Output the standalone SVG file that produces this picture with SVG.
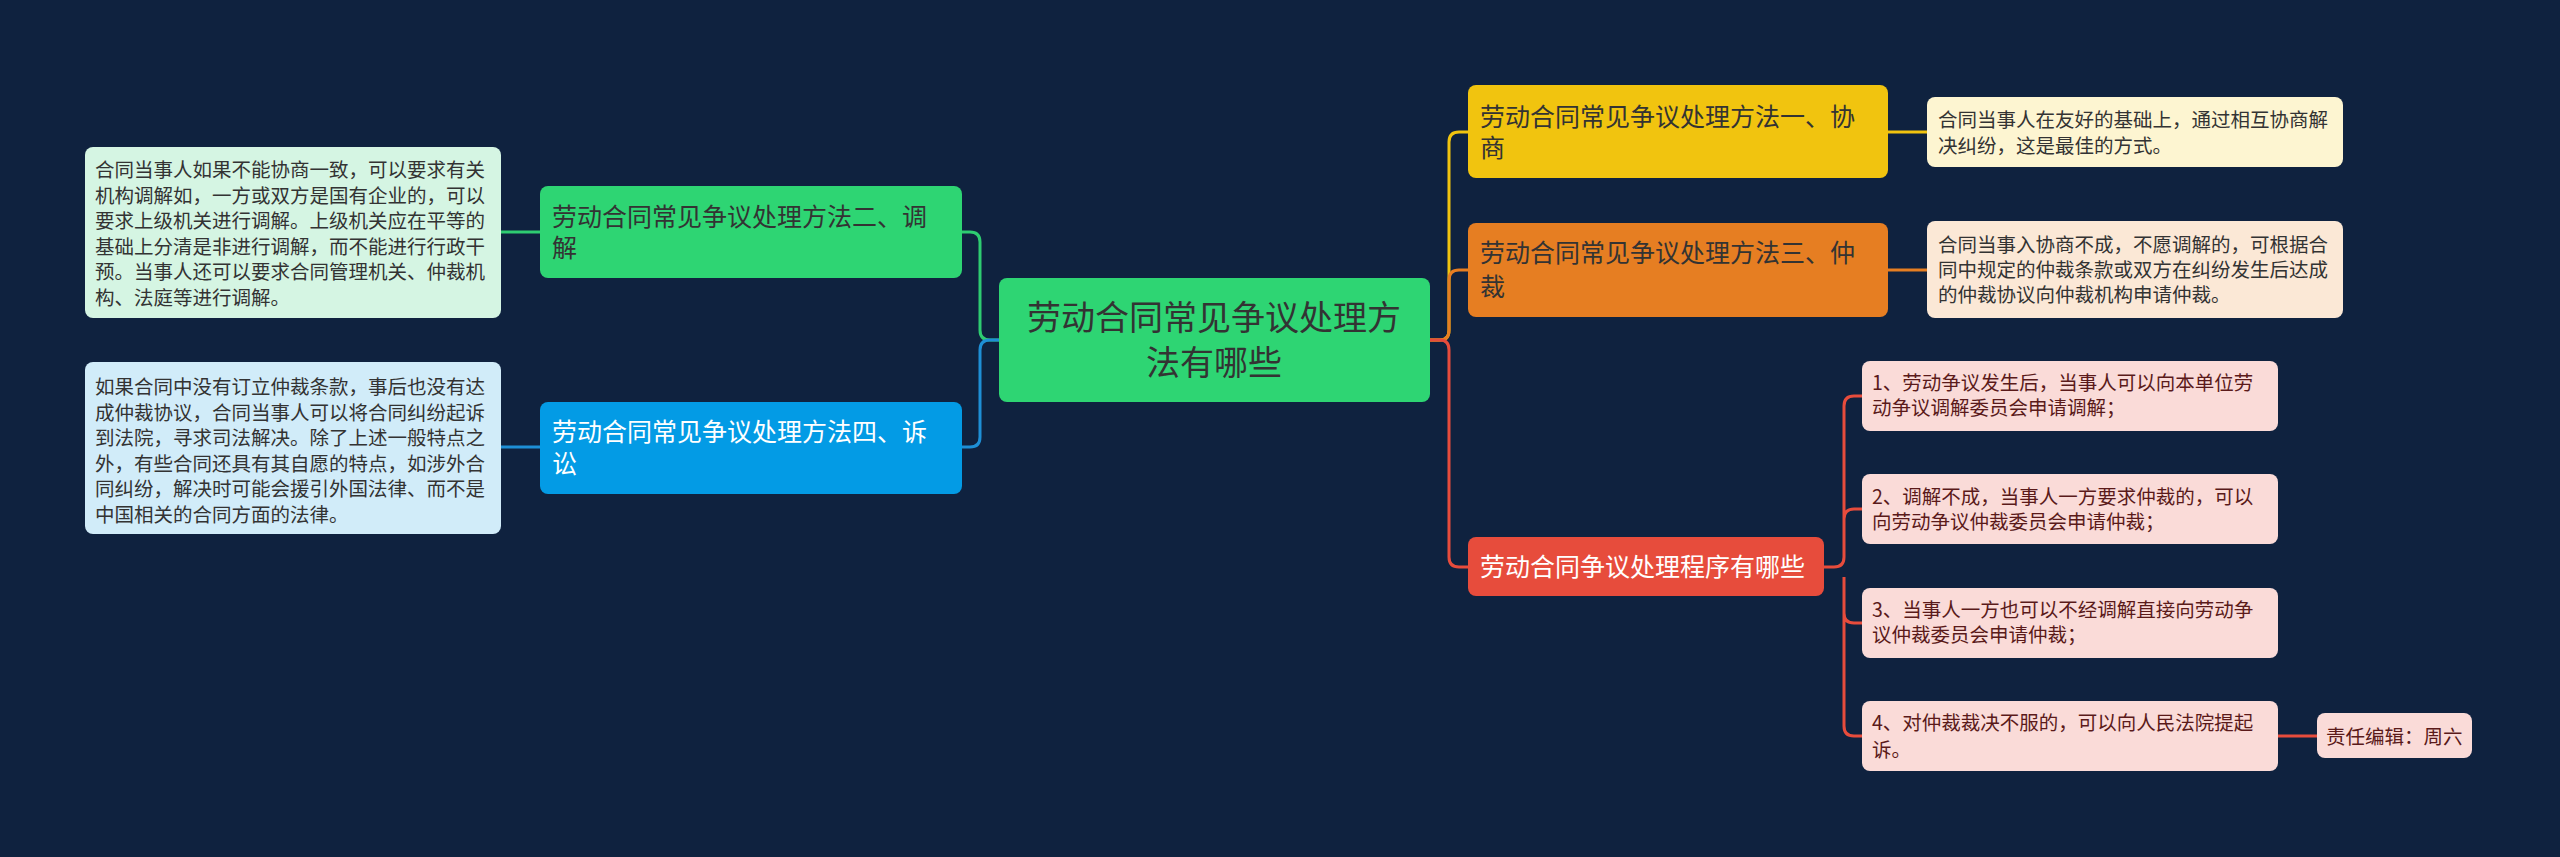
<svg xmlns="http://www.w3.org/2000/svg" width="2560" height="857" viewBox="0 0 2560 857">
<style>
text{font-family:"Noto Sans CJK SC","Noto Sans",sans-serif}
.l1{font-size:25px}
.lf{font-size:19.5px}
.c{fill:none;stroke-width:3}
</style>
<rect width="2560" height="857" fill="#0f223f"/>
<g id="connectors">
<path class="c" stroke="#2ecc71" d="M999 340H990Q980 340 980 330V242Q980 232 970 232H962"/>
<path class="c" stroke="#1e8fd6" d="M999 340H990Q980 340 980 350V437Q980 447 970 447H962"/>
<path class="c" stroke="#2ecc71" d="M540 232H501"/>
<path class="c" stroke="#1e8fd6" d="M540 447H501"/>
<path class="c" stroke="#f1c40f" d="M1430 340H1440Q1449 340 1449 330V142Q1449 132 1459 132H1468"/>
<path class="c" stroke="#e67e22" d="M1430 340H1440Q1449 340 1449 330V280Q1449 270 1459 270H1468"/>
<path class="c" stroke="#e74c3c" d="M1430 340H1440Q1449 340 1449 350V557Q1449 567 1459 567H1468"/>
<path class="c" stroke="#f1c40f" d="M1888 132H1927"/>
<path class="c" stroke="#e67e22" d="M1888 270H1927"/>
<path class="c" stroke="#e74c3c" d="M1824 567H1834Q1844 567 1844 557V406Q1844 396 1854 396H1862M1844 557V519Q1844 509 1854 509H1862M1844 577V613Q1844 623 1854 623H1862M1844 577V726Q1844 736 1854 736H1862M2278 736H2317"/>
</g>
<g id="center"><rect x="999" y="278" width="431" height="124" rx="8" fill="#2ed573"/>
<text x="1214" y="330" font-size="34" fill="#333" text-anchor="middle">劳动合同常见争议处理方</text>
<text x="1214" y="375" font-size="34" fill="#333" text-anchor="middle">法有哪些</text></g>
<g id="m2"><rect x="540" y="186" width="422" height="92" rx="8" fill="#2ed573"/>
<text class="l1" x="552" y="226" fill="#333">劳动合同常见争议处理方法二、调</text><text class="l1" x="552" y="257" fill="#333">解</text></g>
<g id="m4"><rect x="540" y="402" width="422" height="92" rx="8" fill="#039be5"/>
<text class="l1" x="552" y="441" fill="#fff">劳动合同常见争议处理方法四、诉</text><text class="l1" x="552" y="473" fill="#fff">讼</text></g>
<g id="leaf2"><rect x="85" y="147" width="416" height="171" rx="8" fill="#d5f5e3"/>
<g class="lf" fill="#333">
<text x="95" y="177">合同当事人如果不能协商一致，可以要求有关</text>
<text x="95" y="203">机构调解如，一方或双方是国有企业的，可以</text>
<text x="95" y="228">要求上级机关进行调解。上级机关应在平等的</text>
<text x="95" y="254">基础上分清是非进行调解，而不能进行行政干</text>
<text x="95" y="279">预。当事人还可以要求合同管理机关、仲裁机</text>
<text x="95" y="305">构、法庭等进行调解。</text></g></g>
<g id="leaf4"><rect x="85" y="362" width="416" height="172" rx="8" fill="#d1ecf9"/>
<g class="lf" fill="#333">
<text x="95" y="394">如果合同中没有订立仲裁条款，事后也没有达</text>
<text x="95" y="420">成仲裁协议，合同当事人可以将合同纠纷起诉</text>
<text x="95" y="445">到法院，寻求司法解决。除了上述一般特点之</text>
<text x="95" y="471">外，有些合同还具有其自愿的特点，如涉外合</text>
<text x="95" y="496">同纠纷，解决时可能会援引外国法律、而不是</text>
<text x="95" y="522">中国相关的合同方面的法律。</text></g></g>
<g id="m1"><rect x="1468" y="85" width="420" height="93" rx="8" fill="#f1c40f"/>
<text class="l1" x="1480" y="126" fill="#333">劳动合同常见争议处理方法一、协</text><text class="l1" x="1480" y="157" fill="#333">商</text></g>
<g id="leaf1"><rect x="1927" y="97" width="416" height="70" rx="8" fill="#fdf5d1"/>
<text class="lf" x="1938" y="127" fill="#333">合同当事人在友好的基础上，通过相互协商解</text>
<text class="lf" x="1938" y="153" fill="#333">决纠纷，这是最佳的方式。</text></g>
<g id="m3"><rect x="1468" y="223" width="420" height="94" rx="8" fill="#e67e22"/>
<text class="l1" x="1480" y="262" fill="#333">劳动合同常见争议处理方法三、仲</text><text class="l1" x="1480" y="296" fill="#333">裁</text></g>
<g id="leaf3"><rect x="1927" y="221" width="416" height="97" rx="8" fill="#fbe8d6"/>
<text class="lf" x="1938" y="252" fill="#333">合同当事入协商不成，不愿调解的，可根据合</text>
<text class="lf" x="1938" y="277" fill="#333">同中规定的仲裁条款或双方在纠纷发生后达成</text>
<text class="lf" x="1938" y="302" fill="#333">的仲裁协议向仲裁机构申请仲裁。</text></g>
<g id="proc"><rect x="1468" y="537" width="356" height="59" rx="8" fill="#e74c3c"/>
<text class="l1" x="1480" y="576" fill="#fff">劳动合同争议处理程序有哪些</text></g>
<g id="p1"><rect x="1862" y="361" width="416" height="70" rx="8" fill="#fadbd8"/>
<text class="lf" x="1872" y="390" fill="#5a1a1a">1、劳动争议发生后，当事人可以向本单位劳</text>
<text class="lf" x="1872" y="415" fill="#5a1a1a">动争议调解委员会申请调解；</text></g>
<g id="p2"><rect x="1862" y="474" width="416" height="70" rx="8" fill="#fadbd8"/>
<text class="lf" x="1872" y="504" fill="#5a1a1a">2、调解不成，当事人一方要求仲裁的，可以</text>
<text class="lf" x="1872" y="529" fill="#5a1a1a">向劳动争议仲裁委员会申请仲裁；</text></g>
<g id="p3"><rect x="1862" y="588" width="416" height="70" rx="8" fill="#fadbd8"/>
<text class="lf" x="1872" y="617" fill="#5a1a1a">3、当事人一方也可以不经调解直接向劳动争</text>
<text class="lf" x="1872" y="642" fill="#5a1a1a">议仲裁委员会申请仲裁；</text></g>
<g id="p4"><rect x="1862" y="701" width="416" height="70" rx="8" fill="#fadbd8"/>
<text class="lf" x="1872" y="730" fill="#5a1a1a">4、对仲裁裁决不服的，可以向人民法院提起</text>
<text class="lf" x="1872" y="757" fill="#5a1a1a">诉。</text></g>
<g id="editor"><rect x="2317" y="713" width="155" height="45" rx="8" fill="#fadbd8"/>
<text class="lf" x="2326" y="744" fill="#5a1a1a">责任编辑：周六</text></g>
</svg>
